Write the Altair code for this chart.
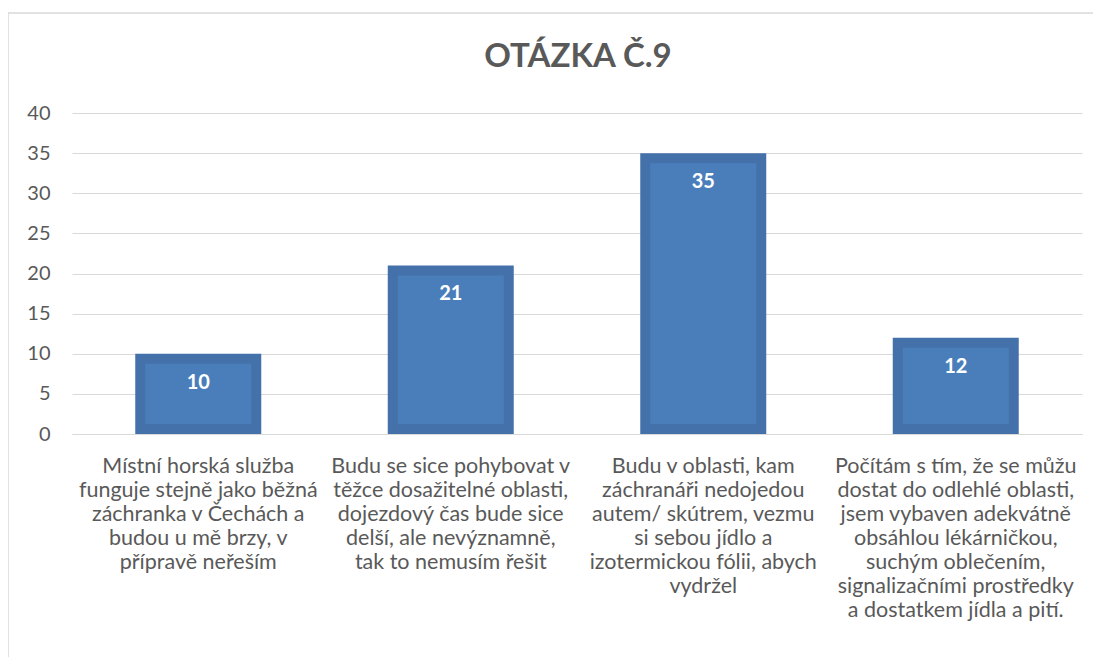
import altair as alt
import pandas as pd

categories = [
    "Místní horská služba|funguje stejně jako běžná|záchranka v Čechách a|budou u mě brzy, v|přípravě neřeším",
    "Budu se sice pohybovat v|těžce dosažitelné oblasti,|dojezdový čas bude sice|delší, ale nevýznamně,|tak to nemusím řešit",
    "Budu v oblasti, kam|záchranáři nedojedou|autem/ skútrem, vezmu|si sebou jídlo a|izotermickou fólii, abych|vydržel",
    "Počítám s tím, že se můžu|dostat do odlehlé oblasti,|jsem vybaven adekvátně|obsáhlou lékárničkou,|suchým oblečením,|signalizačními prostředky|a dostatkem jídla a pití.",
]
values = [10, 21, 35, 12]
y_ticks = [0, 5, 10, 15, 20, 25, 30, 35, 40]
title_text = ["OTÁZKA Č.9"]

df = pd.DataFrame({"cat": categories, "val": values})

FONT = "Lato"
GREY = "#595959"

x = alt.X("cat:N", sort=categories, title=None,
          scale=alt.Scale(paddingInner=0, paddingOuter=0),
          axis=alt.Axis(labelAngle=0, labelExpr="split(datum.label, '|')",
                        labelFontSize=21.5, labelColor=GREY, labelFont=FONT,
                        labelLineHeight=24, labelPadding=21, ticks=False,
                        domain=True, domainColor="#D9D9D9", labelLimit=400,
                        labelBaseline="top"))
y = alt.Y("val:Q", title=None,
          scale=alt.Scale(domain=[0, 40], nice=False),
          axis=alt.Axis(values=y_ticks, labelFontSize=20, labelColor=GREY,
                        labelFont=FONT, ticks=False, domain=False,
                        gridColor="#D9D9D9", labelPadding=22))

base = alt.Chart(df)

outer = base.mark_bar(color="#4571AA", size=126).encode(x=x, y=y)
inner = base.mark_bar(color="#4A7EBB", size=106, yOffset=10, y2Offset=-10).encode(
    x=alt.X("cat:N", sort=categories), y=alt.Y("val:Q"), y2=alt.datum(0))
labels = base.mark_text(color="white", fontSize=20, fontWeight="bold", font=FONT,
                        dy=29, baseline="middle").encode(
    x=alt.X("cat:N", sort=categories), y=alt.Y("val:Q"), text=alt.Text("val:Q"))

border = alt.Chart(pd.DataFrame({"a": [0]})).mark_rect(
    fill=None, stroke="#D9D9D9", strokeWidth=1.5).encode(
    x=alt.value(-64), x2=alt.value(1200), y=alt.value(-100), y2=alt.value(700))

title = alt.Chart(pd.DataFrame({"t": title_text})).mark_text(
    font=FONT, fontSize=33, fontWeight="bold", color=GREY,
    align="center", baseline="alphabetic").encode(
    x=alt.value(506), y=alt.value(-46), text="t:N")

chart = alt.layer(border, outer, inner, labels, title).properties(
    width=1010, height=321,
    background="white",
    autosize=alt.AutoSizeParams(type="none"),
    padding={"left": 64, "top": 105, "right": 11, "bottom": 223},
).configure_view(strokeWidth=0, stroke="transparent")

chart.save("out.html", embed_options={"renderer": "svg", "actions": False})
